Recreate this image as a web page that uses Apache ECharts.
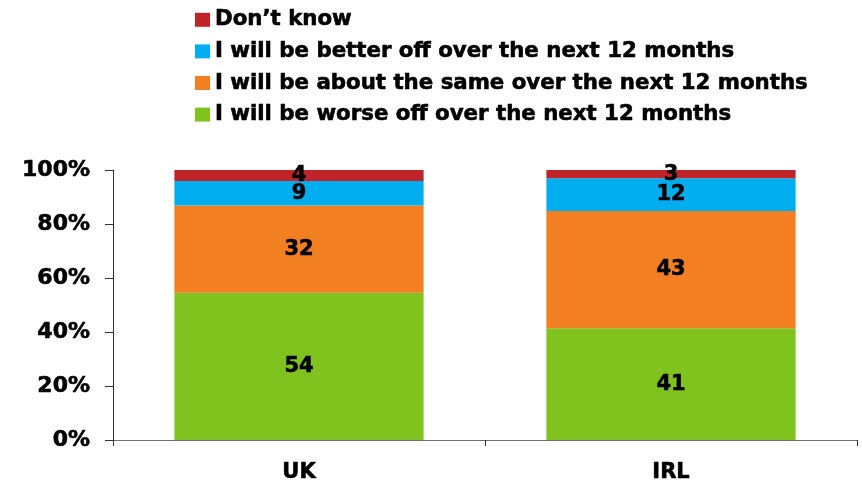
<!DOCTYPE html>
<html>
<head>
<meta charset="utf-8">
<script src="https://cdn.jsdelivr.net/npm/echarts@6/dist/echarts.min.js"></script>
<style>
  html, body { margin: 0; padding: 0; background: #fff; }
  #chart { width: 862px; height: 484px; }
</style>
</head>
<body>
<div id="chart"></div>
<script>
// Categories and survey answers (percent, as reported)
const categories = ['UK', 'IRL'];
const worseOff = [54, 41];
const aboutSame = [32, 43];
const betterOff = [9, 12];
const dontKnow = [4, 3];
const yTicks = [0, 20, 40, 60, 80, 100];

const seriesNames = [
  'I will be worse off over the next 12 months',
  'I will be about the same over the next 12 months',
  'I will be better off over the next 12 months',
  'Don\u2019t know'
];
const seriesValues = [worseOff, aboutSame, betterOff, dontKnow];
const seriesColors = ['#80C31E', '#F27F21', '#00AEEF', '#C1232A'];

// Each bar is scaled to 100% of its own total
const totals = categories.map((_, i) => seriesValues.reduce((s, arr) => s + arr[i], 0));

const FONT = '"DejaVu Sans", Verdana, sans-serif';
// heavy black text used throughout
const heavy = (size) => ({
  color: '#000',
  fontFamily: FONT,
  fontWeight: 'bold',
  fontSize: size,
  textBorderColor: '#000',
  textBorderWidth: 0.6
});

const series = seriesNames.map((name, k) => ({
  name: name,
  type: 'bar',
  stack: 'total',
  barCategoryGap: '33%',
  itemStyle: { color: seriesColors[k] },
  label: Object.assign({
    show: true,
    position: 'inside',
    formatter: p => String(seriesValues[k][p.dataIndex])
  }, heavy(21)),
  data: seriesValues[k].map((v, i) => v / totals[i] * 100)
}));

const chart = echarts.init(document.getElementById('chart'), null, { renderer: 'canvas' });
chart.setOption({
  animation: false,
  backgroundColor: '#fff',
  textStyle: { fontFamily: FONT },
  legend: {
    orient: 'vertical',
    left: 195,
    top: 9,
    padding: 0,
    icon: 'rect',
    itemWidth: 15,
    itemHeight: 14,
    itemGap: 10,
    data: seriesNames.slice().reverse(),
    textStyle: Object.assign({ lineHeight: 20 }, heavy(21.3))
  },
  grid: { left: 113, right: 5, top: 170, bottom: 44, containLabel: false },
  xAxis: {
    type: 'category',
    data: categories,
    axisLine: { show: true, lineStyle: { color: '#6e6e6e', width: 1 } },
    axisTick: { show: true, length: 6, lineStyle: { color: '#333' } },
    axisLabel: Object.assign({ margin: 22 }, heavy(21))
  },
  yAxis: {
    type: 'value',
    min: yTicks[0],
    max: yTicks[yTicks.length - 1],
    interval: yTicks[1] - yTicks[0],
    splitLine: { show: false },
    axisLine: { show: true, lineStyle: { color: '#333', width: 1 } },
    axisTick: { show: true, length: 8, lineStyle: { color: '#333' } },
    axisLabel: Object.assign({ margin: 23, formatter: '{value}%' }, heavy(22))
  },
  series: series
});
</script>
</body>
</html>
